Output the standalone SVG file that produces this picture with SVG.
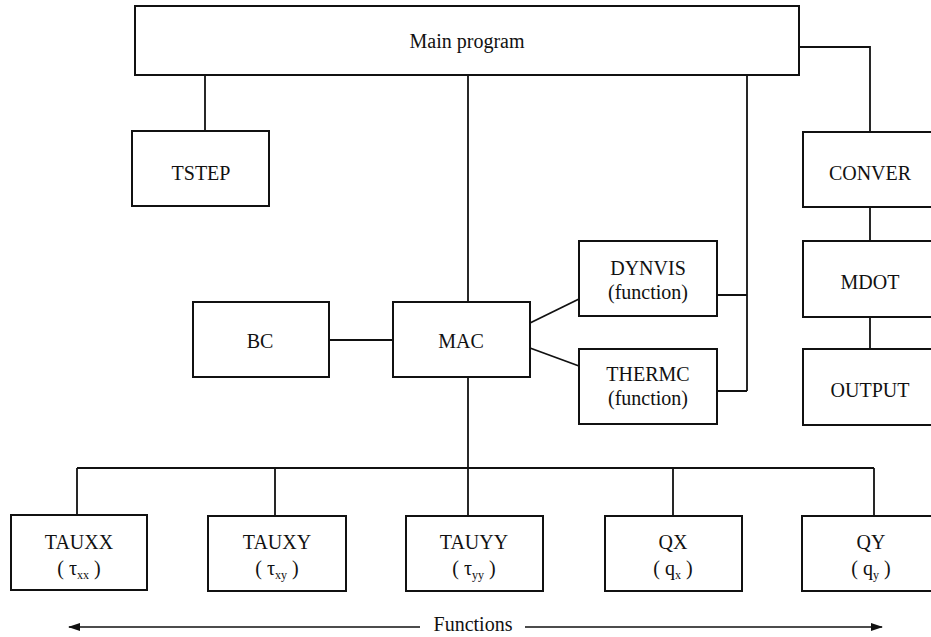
<svg xmlns="http://www.w3.org/2000/svg" width="931" height="637" viewBox="0 0 931 637">
<style>
.box{fill:#fff;stroke:#111;stroke-width:2}
.t{font-family:"Liberation Serif","DejaVu Serif","Times New Roman",serif;font-size:20px;fill:#111;text-anchor:middle}
.sub{font-size:12px}
.c{fill:none;stroke:#111;stroke-width:1.8}
.a{fill:none;stroke:#111;stroke-width:1.3}
</style>
<defs>
<marker id="ah" markerWidth="12" markerHeight="8" refX="11" refY="4" orient="auto" markerUnits="userSpaceOnUse">
<path d="M0,0 L12,4 L0,8 Z" fill="#111"/>
</marker>
</defs>
<rect width="931" height="637" fill="#fff"/>
<g id="connectors">
<path class="c" d="M205,75 V131"/>
<path class="c" d="M468,75 V302"/>
<path class="c" d="M468,377 V516"/>
<path class="c" d="M77,468 H874"/>
<path class="c" d="M77,468 V515 M275,468 V516 M673,468 V516 M874,468 V516"/>
<path class="c" d="M329,340 H393"/>
<path class="c" d="M530,323 L579,299"/>
<path class="c" d="M530,348 L579,366"/>
<path class="c" d="M717,295 H747 M717,391 H747 M747,75 V391"/>
<path class="c" d="M799,47 H870 V132"/>
<path class="c" d="M870,207 V241 M870,317 V349"/>
<path class="a" d="M420,627 H69" marker-end="url(#ah)"/>
<path class="a" d="M525,627 H882" marker-end="url(#ah)"/>
</g>
<g id="main"><rect class="box" x="135" y="6" width="664" height="69"/><text class="t" font-family="Liberation Serif, DejaVu Serif, serif" x="467" y="48">Main program</text></g>
<g id="tstep"><rect class="box" x="132" y="131" width="137" height="75"/><text class="t" x="201" y="180">TSTEP</text></g>
<g id="conver"><rect class="box" x="803" y="132" width="140" height="75"/><text class="t" x="870" y="180">CONVER</text></g>
<g id="dynvis"><rect class="box" x="579" y="241" width="138" height="75"/><text class="t" x="648" y="275">DYNVIS</text><text class="t" x="648" y="299">(function)</text></g>
<g id="mdot"><rect class="box" x="803" y="241" width="140" height="76"/><text class="t" x="870" y="289">MDOT</text></g>
<g id="bc"><rect class="box" x="193" y="302" width="136" height="75"/><text class="t" x="260" y="348">BC</text></g>
<g id="mac"><rect class="box" x="393" y="302" width="137" height="75"/><text class="t" x="461" y="348">MAC</text></g>
<g id="thermc"><rect class="box" x="579" y="349" width="138" height="75"/><text class="t" x="648" y="381">THERMC</text><text class="t" x="648" y="405">(function)</text></g>
<g id="output"><rect class="box" x="803" y="349" width="140" height="76"/><text class="t" x="870" y="397">OUTPUT</text></g>
<g id="tauxx"><rect class="box" x="11" y="515" width="136" height="75"/><text class="t" x="79" y="549">TAUXX</text><text class="t" x="79" y="575">( τ<tspan class="sub" dy="4">xx</tspan><tspan dy="-4"> )</tspan></text></g>
<g id="tauxy"><rect class="box" x="208" y="516" width="138" height="75"/><text class="t" x="277" y="549">TAUXY</text><text class="t" x="277" y="575">( τ<tspan class="sub" dy="4">xy</tspan><tspan dy="-4"> )</tspan></text></g>
<g id="tauyy"><rect class="box" x="406" y="516" width="137" height="75"/><text class="t" x="474" y="549">TAUYY</text><text class="t" x="474" y="575">( τ<tspan class="sub" dy="4">yy</tspan><tspan dy="-4"> )</tspan></text></g>
<g id="qx"><rect class="box" x="605" y="516" width="137" height="75"/><text class="t" x="673" y="549">QX</text><text class="t" x="673" y="575">( q<tspan class="sub" dy="4">x</tspan><tspan dy="-4"> )</tspan></text></g>
<g id="qy"><rect class="box" x="802" y="516" width="140" height="75"/><text class="t" x="871" y="549">QY</text><text class="t" x="871" y="575">( q<tspan class="sub" dy="4">y</tspan><tspan dy="-4"> )</tspan></text></g>
<g id="functions-label"><text class="t" x="473" y="631">Functions</text></g>
</svg>
